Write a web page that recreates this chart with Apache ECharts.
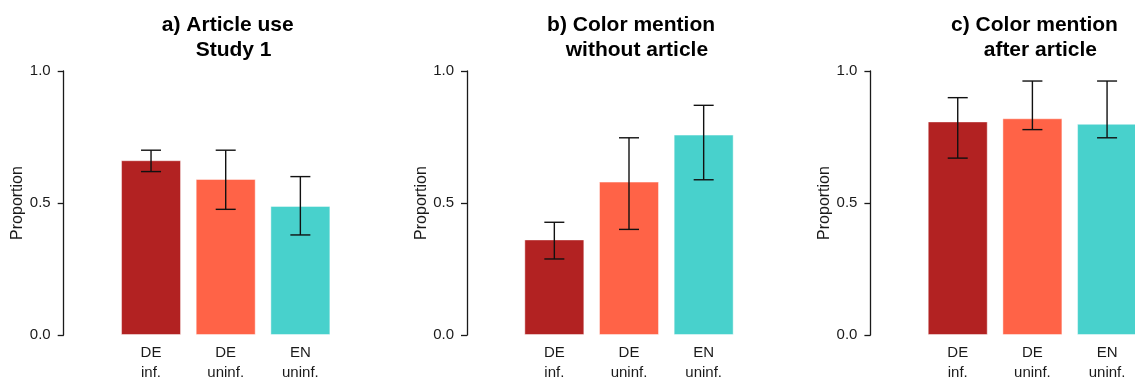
<!DOCTYPE html>
<html>
<head>
<meta charset="utf-8">
<script src="https://cdn.jsdelivr.net/npm/echarts@6/dist/echarts.min.js"></script>
<style>
html,body{margin:0;padding:0;background:#fff;}
#c{width:1135px;height:381px;}
</style>
</head>
<body>
<div id="c"></div>
<script>
// ---- data ----
var categories = ['DE\ninf.', 'DE\nuninf.', 'EN\nuninf.'];
var panelTitles = ['a) Article use \n Study 1', 'b) Color mention \n without article', 'c) Color mention \n after article'];
var yTicks = [0, 0.5, 1];
var barColors = ['#B22222', '#FF6347', '#48D1CC'];

var meansA = [0.662, 0.591, 0.489];
var lowA   = [0.619, 0.476, 0.379];
var highA  = [0.700, 0.700, 0.600];

var meansB = [0.362, 0.581, 0.759];
var lowB   = [0.288, 0.400, 0.588];
var highB  = [0.427, 0.747, 0.870];

var meansC = [0.809, 0.821, 0.800];
var lowC   = [0.670, 0.778, 0.747];
var highC  = [0.899, 0.962, 0.962];

var means = [meansA, meansB, meansC];
var lows = [lowA, lowB, lowC];
var highs = [highA, highB, highC];

// ---- layout ----
var FONT = 'Liberation Sans, Arial, sans-serif';
var gridLefts = [113.7, 517, 920.4];
var gridW = 224;
var gridTop = 71, gridH = 264;

var grids = [], xAxes = [], yAxes = [], series = [], titles = [];
for (var p = 0; p < 3; p++) {
  grids.push({left: gridLefts[p], top: gridTop, width: gridW, height: gridH, containLabel: false, outerBoundsMode: 'none'});
  titles.push({
    text: panelTitles[p],
    left: gridLefts[p] + gridW / 2,
    top: 8,
    textAlign: 'center',
    textStyle: {fontFamily: FONT, fontSize: 21, fontWeight: 'bold', color: '#000', lineHeight: 25}
  });
  xAxes.push({
    type: 'category', gridIndex: p, data: categories,
    axisLine: {show: false}, axisTick: {show: false},
    axisLabel: {fontFamily: FONT, fontSize: 15, lineHeight: 20, color: '#1a1a1a', margin: 8, interval: 0}
  });
  yAxes.push({
    type: 'value', gridIndex: p, min: yTicks[0], max: yTicks[yTicks.length - 1], interval: 0.5,
    offset: 50,
    axisLine: {show: true, lineStyle: {color: '#1a1a1a', width: 1.3}},
    axisTick: {show: true, length: 6, lineStyle: {color: '#1a1a1a', width: 1.3}},
    splitLine: {show: false},
    axisLabel: {fontFamily: FONT, fontSize: 15, color: '#1a1a1a', margin: 13,
      formatter: function (v) { return v.toFixed(1); }},
    name: 'Proportion', nameLocation: 'middle', nameGap: 36, nameRotate: 90,
    nameTextStyle: {fontFamily: FONT, fontSize: 16, color: '#1a1a1a'}
  });
  series.push({
    type: 'bar', xAxisIndex: p, yAxisIndex: p, barWidth: 60,
    data: means[p].map(function (v, i) {
      return {value: v, itemStyle: {color: barColors[i]}};
    }),
    itemStyle: {borderColor: 'rgba(255,255,255,0.45)', borderWidth: 1},
    silent: true
  });
  series.push({
    type: 'custom', xAxisIndex: p, yAxisIndex: p, silent: true,
    data: lows[p].map(function (lo, i) { return [i, lo, highs[p][i]]; }),
    renderItem: function (params, api) {
      var lo = api.coord([api.value(0), api.value(1)]);
      var hi = api.coord([api.value(0), api.value(2)]);
      var x = lo[0], hw = 10;
      var st = {stroke: '#111', lineWidth: 1.4};
      return {type: 'group', children: [
        {type: 'line', shape: {x1: x, y1: lo[1], x2: x, y2: hi[1]}, style: st},
        {type: 'line', shape: {x1: x - hw, y1: lo[1], x2: x + hw, y2: lo[1]}, style: st},
        {type: 'line', shape: {x1: x - hw, y1: hi[1], x2: x + hw, y2: hi[1]}, style: st}
      ]};
    },
    z: 5
  });
}

var chart = echarts.init(document.getElementById('c'), null, {renderer: 'canvas'});
chart.setOption({
  animation: false,
  backgroundColor: '#fff',
  title: titles,
  grid: grids,
  xAxis: xAxes,
  yAxis: yAxes,
  series: series
});
</script>
</body>
</html>
